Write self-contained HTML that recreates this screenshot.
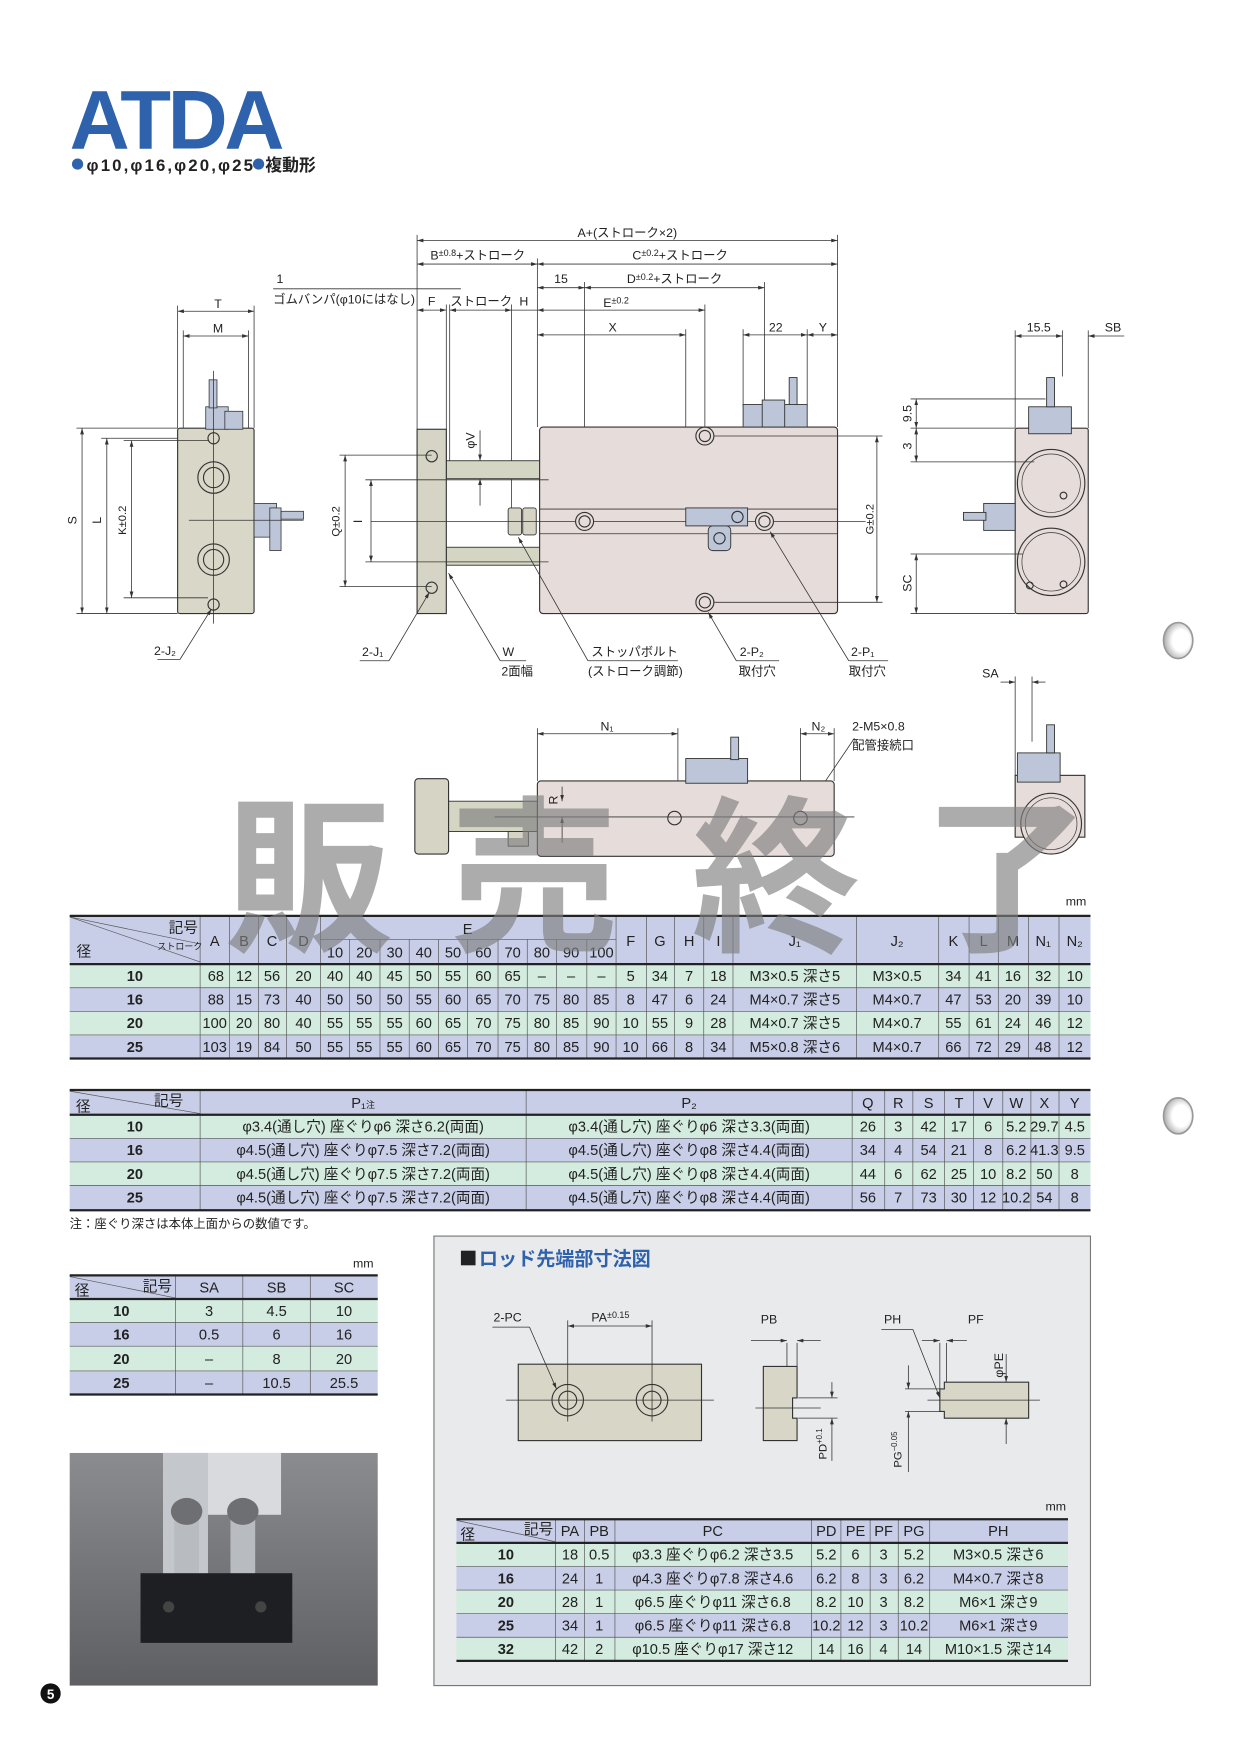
<!DOCTYPE html>
<html><head><meta charset="utf-8"><style>
html,body{margin:0;padding:0;background:#fff}
svg{display:block}
text{font-family:"Liberation Sans","Noto Sans CJK JP",sans-serif;fill:#222}
.s{font-size:11px}.t{font-size:13px}.m{text-anchor:middle}
.dl{stroke:#333;stroke-width:0.7;fill:none}
.ol{stroke:#333;stroke-width:1;}
.g{fill:#d3ecdf}.l{fill:#c9cee8}
.tl{stroke:#555;stroke-width:0.6}
.tk{stroke:#222;stroke-width:2}
</style></head><body>
<svg width="1240" height="1753" viewBox="0 0 1103 1560" preserveAspectRatio="none" xmlns="http://www.w3.org/2000/svg">
<defs>
<marker id="a" viewBox="0 0 10 6" refX="10" refY="3" markerWidth="8" markerHeight="5" orient="auto-start-reverse"><path d="M0,0L10,3L0,6z" fill="#333"/></marker>
</defs>
<rect width="1103" height="1560" fill="#fff"/>
<!-- Title -->
<text x="62" y="132" style="font-size:74px;font-weight:bold;fill:#2f62ad;letter-spacing:-3px">ATDA</text>
<circle cx="69" cy="146" r="5" fill="#2f62ad"/>
<text x="77" y="152" textLength="148" lengthAdjust="spacing" style="font-size:15px;font-weight:bold">φ10,φ16,φ20,φ25</text>
<circle cx="230" cy="146" r="5" fill="#2f62ad"/>
<text x="236" y="152" style="font-size:15px;font-weight:bold">複動形</text>

<!-- ===== Left side view ===== -->
<g>
<line class="dl" x1="158" y1="272" x2="158" y2="381"/><line class="dl" x1="226" y1="272" x2="226" y2="381"/>
<line class="dl" x1="163" y1="294" x2="163" y2="381"/><line class="dl" x1="221" y1="294" x2="221" y2="381"/>
<line class="dl" x1="158" y1="277" x2="226" y2="277" marker-start="url(#a)" marker-end="url(#a)"/>
<line class="dl" x1="163" y1="299" x2="221" y2="299" marker-start="url(#a)" marker-end="url(#a)"/>
<text class="s m" x="194" y="274">T</text><text class="s m" x="194" y="296">M</text>
<rect x="158" y="381" width="68" height="165" rx="2" fill="#d9d8c8" stroke="#333"/>
<rect x="183" y="362" width="20" height="20" fill="#bcc6d8" stroke="#333" stroke-width=".7"/>
<rect x="200" y="366" width="16" height="16" fill="#bcc6d8" stroke="#333" stroke-width=".7"/>
<rect x="186" y="338" width="7" height="25" fill="#bcc6d8" stroke="#333" stroke-width=".7"/>
<rect x="226" y="448" width="20" height="30" fill="#bcc6d8" stroke="#333" stroke-width=".7"/>
<rect x="240" y="452" width="10" height="38" fill="#bcc6d8" stroke="#333" stroke-width=".7"/>
<rect x="250" y="455" width="20" height="7" fill="#bcc6d8" stroke="#333" stroke-width=".7"/>
<circle cx="190" cy="425" r="14" fill="#d9d8c8" stroke="#333"/><circle cx="190" cy="425" r="9" fill="none" stroke="#333"/>
<circle cx="190" cy="498" r="14" fill="#d9d8c8" stroke="#333"/><circle cx="190" cy="498" r="9" fill="none" stroke="#333"/>
<circle cx="190" cy="390" r="5" fill="none" stroke="#333"/><circle cx="190" cy="538" r="5" fill="none" stroke="#333"/>
<line class="dl" x1="190" y1="330" x2="190" y2="555"/><line class="dl" x1="168" y1="463" x2="270" y2="463"/>
<line class="dl" x1="68" y1="381" x2="158" y2="381"/><line class="dl" x1="68" y1="546" x2="158" y2="546"/>
<line class="dl" x1="90" y1="390" x2="158" y2="390"/><line class="dl" x1="110" y1="392" x2="185" y2="392"/><line class="dl" x1="110" y1="532" x2="185" y2="532"/>
<line class="dl" x1="73" y1="381" x2="73" y2="546" marker-start="url(#a)" marker-end="url(#a)"/>
<line class="dl" x1="95" y1="390" x2="95" y2="546" marker-start="url(#a)" marker-end="url(#a)"/>
<line class="dl" x1="117" y1="392" x2="117" y2="532" marker-start="url(#a)" marker-end="url(#a)"/>
<text class="s m" transform="translate(68,463) rotate(-90)">S</text>
<text class="s m" transform="translate(90,463) rotate(-90)">L</text>
<text class="s m" transform="translate(112,463) rotate(-90)" style="font-size:10px">K±0.2</text>
<line class="dl" x1="140" y1="587" x2="160" y2="587"/><line class="dl" x1="160" y1="587" x2="188" y2="542" marker-end="url(#a)"/>
<text class="s" x="137" y="583">2-J₂</text>
</g>

<!-- ===== Main view ===== -->
<g>
<g class="dl">
<line x1="371" y1="209" x2="371" y2="382"/><line x1="745" y1="209" x2="745" y2="380"/>
<line x1="478" y1="230" x2="478" y2="380"/><line x1="520" y1="251" x2="520" y2="472"/><line x1="680" y1="251" x2="680" y2="472"/>
<line x1="627" y1="271" x2="627" y2="545"/><line x1="610" y1="293" x2="610" y2="455"/>
<line x1="661" y1="293" x2="661" y2="362"/><line x1="718" y1="293" x2="718" y2="362"/>
<line x1="397" y1="271" x2="397" y2="410"/><line x1="400" y1="271" x2="400" y2="410"/><line x1="455" y1="271" x2="455" y2="455"/>
</g>
<line class="dl" x1="371" y1="214" x2="745" y2="214" marker-start="url(#a)" marker-end="url(#a)"/>
<line class="dl" x1="371" y1="235" x2="478" y2="235" marker-start="url(#a)" marker-end="url(#a)"/>
<line class="dl" x1="478" y1="235" x2="745" y2="235" marker-start="url(#a)" marker-end="url(#a)"/>
<line class="dl" x1="478" y1="256" x2="520" y2="256" marker-start="url(#a)" marker-end="url(#a)"/>
<line class="dl" x1="520" y1="256" x2="680" y2="256" marker-start="url(#a)" marker-end="url(#a)"/>
<line class="dl" x1="371" y1="276" x2="397" y2="276" marker-start="url(#a)" marker-end="url(#a)"/>
<line class="dl" x1="400" y1="276" x2="455" y2="276" marker-start="url(#a)" marker-end="url(#a)"/>
<line class="dl" x1="455" y1="276" x2="478" y2="276"/>
<line class="dl" x1="478" y1="276" x2="627" y2="276" marker-start="url(#a)" marker-end="url(#a)"/>
<line class="dl" x1="478" y1="298" x2="610" y2="298" marker-start="url(#a)" marker-end="url(#a)"/>
<line class="dl" x1="661" y1="298" x2="718" y2="298" marker-start="url(#a)" marker-end="url(#a)"/>
<line class="dl" x1="718" y1="298" x2="745" y2="298" marker-start="url(#a)" marker-end="url(#a)"/>
<text class="s m" x="558" y="211">A+(ストローク×2)</text>
<text class="s m" x="425" y="231">B<tspan style="font-size:8px" dy="-3">±0.8</tspan><tspan dy="3">+ストローク</tspan></text>
<text class="s m" x="605" y="231">C<tspan style="font-size:8px" dy="-3">±0.2</tspan><tspan dy="3">+ストローク</tspan></text>
<text class="s m" x="499" y="252">15</text>
<text class="s m" x="600" y="252">D<tspan style="font-size:8px" dy="-3">±0.2</tspan><tspan dy="3">+ストローク</tspan></text>
<text class="s" x="246" y="252">1</text>
<line class="dl" x1="243" y1="257" x2="410" y2="257"/>
<text class="s" x="243" y="270">ゴムバンパ(φ10にはなし)</text>
<text class="s m" x="384" y="272">F</text><text class="s m" x="428" y="272">ストローク</text><text class="s m" x="466" y="272">H</text>
<text class="s m" x="548" y="273">E<tspan style="font-size:8px" dy="-3">±0.2</tspan></text>
<text class="s m" x="545" y="295">X</text><text class="s m" x="690" y="295">22</text><text class="s m" x="732" y="295">Y</text>
<rect x="397" y="410" width="84" height="16" fill="#d4d5c3" stroke="#333" stroke-width=".8"/>
<rect x="397" y="487" width="84" height="16" fill="#d4d5c3" stroke="#333" stroke-width=".8"/>
<rect x="371" y="382" width="26" height="164" fill="#d6d5c5" stroke="#333"/>
<circle cx="384" cy="406" r="5" fill="none" stroke="#333"/><circle cx="384" cy="523" r="5" fill="none" stroke="#333"/>
<rect x="452" y="452" width="12" height="24" rx="2" fill="#d6d5c5" stroke="#333" stroke-width=".8"/>
<rect x="465" y="452" width="12" height="24" rx="2" fill="#d6d5c5" stroke="#333" stroke-width=".8"/>
<rect x="480" y="380" width="265" height="166" rx="3" fill="#e6dcd9" stroke="#333"/>
<line class="dl" x1="480" y1="453" x2="745" y2="453"/><line class="dl" x1="480" y1="475" x2="745" y2="475"/>
<line class="dl" x1="330" y1="464" x2="770" y2="464"/>
<circle cx="627" cy="388" r="8" fill="none" stroke="#333"/><circle cx="627" cy="388" r="5" fill="none" stroke="#333"/>
<circle cx="627" cy="536" r="8" fill="none" stroke="#333"/><circle cx="627" cy="536" r="5" fill="none" stroke="#333"/>
<circle cx="520" cy="464" r="8" fill="#e6dcd9" stroke="#333"/><circle cx="520" cy="464" r="5" fill="none" stroke="#333"/>
<circle cx="680" cy="464" r="8" fill="#e6dcd9" stroke="#333"/><circle cx="680" cy="464" r="5" fill="none" stroke="#333"/>
<rect x="610" y="452" width="55" height="16" fill="#bcc6d8" stroke="#333" stroke-width=".8"/>
<rect x="630" y="468" width="20" height="22" rx="4" fill="#bcc6d8" stroke="#333" stroke-width=".8"/>
<circle cx="640" cy="479" r="5" fill="none" stroke="#333"/>
<circle cx="656" cy="460" r="5" fill="none" stroke="#333"/>
<rect x="661" y="360" width="57" height="20" fill="#bcc6d8" stroke="#333" stroke-width=".8"/>
<rect x="678" y="356" width="20" height="24" fill="#bcc6d8" stroke="#333" stroke-width=".8"/>
<rect x="702" y="336" width="7" height="24" fill="#bcc6d8" stroke="#333" stroke-width=".8"/>
<line class="dl" x1="302" y1="405" x2="384" y2="405"/><line class="dl" x1="302" y1="522" x2="384" y2="522"/>
<line class="dl" x1="325" y1="427" x2="488" y2="427"/><line class="dl" x1="325" y1="500" x2="488" y2="500"/>
<line class="dl" x1="307" y1="405" x2="307" y2="522" marker-start="url(#a)" marker-end="url(#a)"/>
<line class="dl" x1="330" y1="427" x2="330" y2="500" marker-start="url(#a)" marker-end="url(#a)"/>
<text class="s m" transform="translate(302,464) rotate(-90)" style="font-size:10px">Q±0.2</text>
<text class="s m" transform="translate(322,464) rotate(-90)">I</text>
<line class="dl" x1="635" y1="388" x2="785" y2="388"/><line class="dl" x1="635" y1="536" x2="785" y2="536"/>
<line class="dl" x1="780" y1="388" x2="780" y2="536" marker-start="url(#a)" marker-end="url(#a)"/>
<text class="s m" transform="translate(777,462) rotate(-90)" style="font-size:10px">G±0.2</text>
<line class="dl" x1="427" y1="383" x2="427" y2="410" marker-end="url(#a)"/><line class="dl" x1="427" y1="450" x2="427" y2="426" marker-end="url(#a)"/>
<text class="s m" transform="translate(422,392) rotate(-90)">φV</text>
<line class="dl" x1="320" y1="588" x2="346" y2="588"/><line class="dl" x1="346" y1="588" x2="382" y2="527" marker-end="url(#a)"/>
<text class="s" x="322" y="584">2-J₁</text>
<line class="dl" x1="445" y1="588" x2="468" y2="588"/><line class="dl" x1="445" y1="588" x2="399" y2="510" marker-end="url(#a)"/>
<text class="s" x="447" y="584">W</text><text class="s" x="446" y="601">2面幅</text>
<line class="dl" x1="523" y1="588" x2="603" y2="588"/><line class="dl" x1="523" y1="588" x2="461" y2="478" marker-end="url(#a)"/>
<text class="s" x="526" y="584">ストッパボルト</text><text class="s" x="523" y="601">(ストローク調節)</text>
<line class="dl" x1="655" y1="588" x2="693" y2="588"/><line class="dl" x1="655" y1="588" x2="630" y2="545" marker-end="url(#a)"/>
<text class="s" x="658" y="584">2-P₂</text><text class="s" x="657" y="601">取付穴</text>
<line class="dl" x1="755" y1="588" x2="790" y2="588"/><line class="dl" x1="755" y1="588" x2="685" y2="473" marker-end="url(#a)"/>
<text class="s" x="757" y="584">2-P₁</text><text class="s" x="755" y="601">取付穴</text>
</g>

<!-- ===== Right view ===== -->
<g>
<line class="dl" x1="903" y1="294" x2="903" y2="381"/><line class="dl" x1="945" y1="294" x2="945" y2="335"/><line class="dl" x1="968" y1="294" x2="968" y2="381"/>
<line class="dl" x1="903" y1="299" x2="945" y2="299" marker-start="url(#a)" marker-end="url(#a)"/>
<line class="dl" x1="968" y1="299" x2="1000" y2="299" marker-start="url(#a)"/>
<text class="s m" x="924" y="295">15.5</text><text class="s m" x="990" y="295">SB</text>
<rect x="903" y="381" width="65" height="165" rx="2" fill="#e6dcd9" stroke="#333"/>
<circle cx="935" cy="430" r="30" fill="#e6dcd9" stroke="#333"/><circle cx="935" cy="430" r="26" fill="none" stroke="#333" stroke-width=".6"/>
<circle cx="935" cy="500" r="30" fill="#e6dcd9" stroke="#333"/><circle cx="935" cy="500" r="26" fill="none" stroke="#333" stroke-width=".6"/>
<circle cx="946" cy="441" r="3" fill="none" stroke="#333"/><circle cx="946" cy="520" r="3" fill="none" stroke="#333"/><circle cx="916" cy="521" r="3" fill="none" stroke="#333"/>
<rect x="915" y="362" width="38" height="24" fill="#bcc6d8" stroke="#333" stroke-width=".8"/>
<rect x="931" y="336" width="7" height="26" fill="#bcc6d8" stroke="#333" stroke-width=".8"/>
<rect x="875" y="448" width="28" height="24" fill="#bcc6d8" stroke="#333" stroke-width=".8"/>
<rect x="857" y="456" width="20" height="7" fill="#bcc6d8" stroke="#333" stroke-width=".8"/>
<line class="dl" x1="810" y1="355" x2="930" y2="355"/><line class="dl" x1="810" y1="381" x2="903" y2="381"/><line class="dl" x1="810" y1="411" x2="920" y2="411"/>
<line class="dl" x1="815" y1="355" x2="815" y2="381" marker-start="url(#a)" marker-end="url(#a)"/>
<line class="dl" x1="815" y1="381" x2="815" y2="411" marker-start="url(#a)" marker-end="url(#a)"/>
<text class="s m" transform="translate(811,368) rotate(-90)">9.5</text>
<text class="s m" transform="translate(811,397) rotate(-90)">3</text>
<line class="dl" x1="810" y1="493" x2="910" y2="493"/><line class="dl" x1="810" y1="546" x2="903" y2="546"/>
<line class="dl" x1="815" y1="493" x2="815" y2="546" marker-start="url(#a)" marker-end="url(#a)"/>
<text class="s m" transform="translate(811,519) rotate(-90)">SC</text>
</g>
<defs><radialGradient id="hole" cx="0.6" cy="0.5" r="0.6"><stop offset="0.5" stop-color="#fff"/><stop offset="1" stop-color="#aaa"/></radialGradient></defs>
<ellipse cx="1048" cy="570" rx="13" ry="16" fill="url(#hole)" stroke="#999" stroke-width="1.5"/>
<ellipse cx="1048" cy="993" rx="13" ry="16" fill="url(#hole)" stroke="#999" stroke-width="1.5"/>

<!-- ===== Lower view ===== -->
<g>
<line class="dl" x1="478" y1="648" x2="478" y2="695"/><line class="dl" x1="603" y1="648" x2="603" y2="722"/>
<line class="dl" x1="712" y1="648" x2="712" y2="722"/><line class="dl" x1="742" y1="648" x2="742" y2="695"/>
<line class="dl" x1="478" y1="653" x2="603" y2="653" marker-start="url(#a)" marker-end="url(#a)"/>
<line class="dl" x1="712" y1="653" x2="742" y2="653" marker-start="url(#a)" marker-end="url(#a)"/>
<text class="s m" x="540" y="650">N₁</text><text class="s m" x="728" y="650">N₂</text>
<text class="s" x="758" y="650">2-M5×0.8</text><text class="s" x="758" y="667">配管接続口</text>
<line class="dl" x1="760" y1="657" x2="716" y2="722" marker-end="url(#a)"/>
<rect x="399" y="713" width="80" height="27" fill="#d4d5c3" stroke="#333" stroke-width=".8"/>
<rect x="369" y="693" width="30" height="67" rx="3" fill="#d6d5c5" stroke="#333"/>
<rect x="452" y="740" width="18" height="13" fill="#d6d5c5" stroke="#333" stroke-width=".8"/>
<rect x="478" y="695" width="264" height="67" rx="3" fill="#e6dcd9" stroke="#333"/>
<rect x="610" y="675" width="55" height="22" fill="#bcc6d8" stroke="#333" stroke-width=".8"/>
<rect x="650" y="656" width="7" height="20" fill="#bcc6d8" stroke="#333" stroke-width=".8"/>
<circle cx="600" cy="728" r="6" fill="none" stroke="#333"/><circle cx="712" cy="728" r="6" fill="none" stroke="#333"/>
<line class="dl" x1="440" y1="727" x2="760" y2="727"/>
<line class="dl" x1="500" y1="700" x2="500" y2="713" marker-end="url(#a)"/><line class="dl" x1="500" y1="750" x2="500" y2="727" marker-end="url(#a)"/>
<text class="s m" transform="translate(496,712) rotate(-90)">R</text>
<line class="dl" x1="903" y1="602" x2="903" y2="690"/><line class="dl" x1="918" y1="602" x2="918" y2="660"/>
<line class="dl" x1="890" y1="607" x2="903" y2="607" marker-end="url(#a)"/><line class="dl" x1="930" y1="607" x2="918" y2="607" marker-end="url(#a)"/>
<text class="s m" x="881" y="603">SA</text>
<rect x="903" y="690" width="62" height="55" fill="#e6dcd9" stroke="#333"/>
<circle cx="935" cy="733" r="27" fill="#e6dcd9" stroke="#333"/><circle cx="935" cy="733" r="23" fill="none" stroke="#333" stroke-width=".6"/>
<rect x="905" y="670" width="38" height="26" fill="#bcc6d8" stroke="#333" stroke-width=".8"/>
<rect x="931" y="645" width="7" height="25" fill="#bcc6d8" stroke="#333" stroke-width=".8"/>
</g>

<!-- ===== Table 1 ===== -->
<text class="s" x="948" y="806">mm</text>
<rect x="62" y="815" width="908" height="43" class="l"/>
<rect x="62" y="858" width="908" height="21" class="g"/>
<rect x="62" y="879" width="908" height="21" class="l"/>
<rect x="62" y="900" width="908" height="21" class="g"/>
<rect x="62" y="921" width="908" height="21" class="l"/>
<g class="tl">
<line x1="178" y1="815" x2="178" y2="942"/><line x1="204" y1="815" x2="204" y2="942"/><line x1="230" y1="815" x2="230" y2="942"/><line x1="255" y1="815" x2="255" y2="942"/><line x1="285" y1="815" x2="285" y2="942"/>
<line x1="311" y1="836" x2="311" y2="942"/><line x1="338" y1="836" x2="338" y2="942"/><line x1="364" y1="836" x2="364" y2="942"/><line x1="390" y1="836" x2="390" y2="942"/><line x1="416" y1="836" x2="416" y2="942"/><line x1="443" y1="836" x2="443" y2="942"/><line x1="469" y1="836" x2="469" y2="942"/><line x1="495" y1="836" x2="495" y2="942"/><line x1="522" y1="836" x2="522" y2="942"/>
<line x1="548" y1="815" x2="548" y2="942"/><line x1="575" y1="815" x2="575" y2="942"/><line x1="600" y1="815" x2="600" y2="942"/><line x1="626" y1="815" x2="626" y2="942"/><line x1="652" y1="815" x2="652" y2="942"/><line x1="762" y1="815" x2="762" y2="942"/><line x1="835" y1="815" x2="835" y2="942"/><line x1="862" y1="815" x2="862" y2="942"/><line x1="888" y1="815" x2="888" y2="942"/><line x1="915" y1="815" x2="915" y2="942"/><line x1="942" y1="815" x2="942" y2="942"/>
<line x1="285" y1="836" x2="548" y2="836"/>
<line x1="62" y1="879" x2="970" y2="879"/><line x1="62" y1="900" x2="970" y2="900"/><line x1="62" y1="921" x2="970" y2="921"/>
<line x1="62" y1="816" x2="178" y2="856"/><line x1="62" y1="816" x2="178" y2="840"/>
</g>
<line class="tk" x1="62" y1="815" x2="970" y2="815"/><line class="tk" x1="62" y1="858" x2="970" y2="858"/><line class="tk" x1="62" y1="942" x2="970" y2="942"/>
<g class="t">
<text x="150" y="830">記号</text><text x="140" y="845" style="font-size:8px">ストローク</text><text x="68" y="851">径</text>
<text class="m" x="191" y="842">A</text><text class="m" x="217" y="842">B</text><text class="m" x="242" y="842">C</text><text class="m" x="270" y="842">D</text>
<text class="m" x="416" y="831">E</text>
<text class="m" x="298" y="852">10</text><text class="m" x="324" y="852">20</text><text class="m" x="351" y="852">30</text><text class="m" x="377" y="852">40</text><text class="m" x="403" y="852">50</text><text class="m" x="430" y="852">60</text><text class="m" x="456" y="852">70</text><text class="m" x="482" y="852">80</text><text class="m" x="508" y="852">90</text><text class="m" x="535" y="852">100</text>
<text class="m" x="561" y="842">F</text><text class="m" x="587" y="842">G</text><text class="m" x="613" y="842">H</text><text class="m" x="639" y="842">I</text><text class="m" x="707" y="842">J₁</text><text class="m" x="798" y="842">J₂</text><text class="m" x="848" y="842">K</text><text class="m" x="875" y="842">L</text><text class="m" x="901" y="842">M</text><text class="m" x="928" y="842">N₁</text><text class="m" x="956" y="842">N₂</text>
<text class="m" x="120" y="873" style="font-weight:bold">10</text><text class="m" x="120" y="894" style="font-weight:bold">16</text><text class="m" x="120" y="915" style="font-weight:bold">20</text><text class="m" x="120" y="936" style="font-weight:bold">25</text>
</g>
<g class="t" text-anchor="middle">
<text y="873"><tspan x="192">68</tspan><tspan x="217">12</tspan><tspan x="242">56</tspan><tspan x="270">20</tspan><tspan x="298">40</tspan><tspan x="324">40</tspan><tspan x="351">45</tspan><tspan x="377">50</tspan><tspan x="403">55</tspan><tspan x="430">60</tspan><tspan x="456">65</tspan><tspan x="482">–</tspan><tspan x="508">–</tspan><tspan x="535">–</tspan><tspan x="561">5</tspan><tspan x="587">34</tspan><tspan x="613">7</tspan><tspan x="639">18</tspan><tspan x="707">M3×0.5 深さ5</tspan><tspan x="798">M3×0.5</tspan><tspan x="848">34</tspan><tspan x="875">41</tspan><tspan x="901">16</tspan><tspan x="928">32</tspan><tspan x="956">10</tspan></text>
<text y="894"><tspan x="192">88</tspan><tspan x="217">15</tspan><tspan x="242">73</tspan><tspan x="270">40</tspan><tspan x="298">50</tspan><tspan x="324">50</tspan><tspan x="351">50</tspan><tspan x="377">55</tspan><tspan x="403">60</tspan><tspan x="430">65</tspan><tspan x="456">70</tspan><tspan x="482">75</tspan><tspan x="508">80</tspan><tspan x="535">85</tspan><tspan x="561">8</tspan><tspan x="587">47</tspan><tspan x="613">6</tspan><tspan x="639">24</tspan><tspan x="707">M4×0.7 深さ5</tspan><tspan x="798">M4×0.7</tspan><tspan x="848">47</tspan><tspan x="875">53</tspan><tspan x="901">20</tspan><tspan x="928">39</tspan><tspan x="956">10</tspan></text>
<text y="915"><tspan x="191">100</tspan><tspan x="217">20</tspan><tspan x="242">80</tspan><tspan x="270">40</tspan><tspan x="298">55</tspan><tspan x="324">55</tspan><tspan x="351">55</tspan><tspan x="377">60</tspan><tspan x="403">65</tspan><tspan x="430">70</tspan><tspan x="456">75</tspan><tspan x="482">80</tspan><tspan x="508">85</tspan><tspan x="535">90</tspan><tspan x="561">10</tspan><tspan x="587">55</tspan><tspan x="613">9</tspan><tspan x="639">28</tspan><tspan x="707">M4×0.7 深さ5</tspan><tspan x="798">M4×0.7</tspan><tspan x="848">55</tspan><tspan x="875">61</tspan><tspan x="901">24</tspan><tspan x="928">46</tspan><tspan x="956">12</tspan></text>
<text y="936"><tspan x="191">103</tspan><tspan x="217">19</tspan><tspan x="242">84</tspan><tspan x="270">50</tspan><tspan x="298">55</tspan><tspan x="324">55</tspan><tspan x="351">55</tspan><tspan x="377">60</tspan><tspan x="403">65</tspan><tspan x="430">70</tspan><tspan x="456">75</tspan><tspan x="482">80</tspan><tspan x="508">85</tspan><tspan x="535">90</tspan><tspan x="561">10</tspan><tspan x="587">66</tspan><tspan x="613">8</tspan><tspan x="639">34</tspan><tspan x="707">M5×0.8 深さ6</tspan><tspan x="798">M4×0.7</tspan><tspan x="848">66</tspan><tspan x="875">72</tspan><tspan x="901">29</tspan><tspan x="928">48</tspan><tspan x="956">12</tspan></text>
</g>

<!-- ===== Table 2 ===== -->
<rect x="62" y="970" width="908" height="22" class="l"/>
<rect x="62" y="992" width="908" height="21" class="g"/>
<rect x="62" y="1013" width="908" height="21" class="l"/>
<rect x="62" y="1034" width="908" height="21" class="g"/>
<rect x="62" y="1055" width="908" height="22" class="l"/>
<g class="tl">
<line x1="178" y1="970" x2="178" y2="1077"/><line x1="468" y1="970" x2="468" y2="1077"/><line x1="758" y1="970" x2="758" y2="1077"/><line x1="787" y1="970" x2="787" y2="1077"/><line x1="812" y1="970" x2="812" y2="1077"/><line x1="840" y1="970" x2="840" y2="1077"/><line x1="866" y1="970" x2="866" y2="1077"/><line x1="892" y1="970" x2="892" y2="1077"/><line x1="917" y1="970" x2="917" y2="1077"/><line x1="942" y1="970" x2="942" y2="1077"/>
<line x1="62" y1="1013" x2="970" y2="1013"/><line x1="62" y1="1034" x2="970" y2="1034"/><line x1="62" y1="1055" x2="970" y2="1055"/>
<line x1="62" y1="971" x2="178" y2="991"/>
</g>
<line class="tk" x1="62" y1="970" x2="970" y2="970"/><line class="tk" x1="62" y1="992" x2="970" y2="992"/><line class="tk" x1="62" y1="1077" x2="970" y2="1077"/>
<g class="t" text-anchor="middle">
<text x="150" y="984">記号</text><text x="74" y="989">径</text>
<text y="986"><tspan x="323">P₁<tspan style="font-size:8px">注</tspan></tspan><tspan x="613">P₂</tspan><tspan x="772">Q</tspan><tspan x="799">R</tspan><tspan x="826">S</tspan><tspan x="853">T</tspan><tspan x="879">V</tspan><tspan x="904">W</tspan><tspan x="929">X</tspan><tspan x="956">Y</tspan></text>
<text x="120" y="1007" font-weight="bold">10</text><text x="120" y="1028" font-weight="bold">16</text><text x="120" y="1049" font-weight="bold">20</text><text x="120" y="1070" font-weight="bold">25</text>
<text y="1007"><tspan x="323">φ3.4(通し穴)  座ぐりφ6  深さ6.2(両面)</tspan><tspan x="613">φ3.4(通し穴)  座ぐりφ6  深さ3.3(両面)</tspan><tspan x="772">26</tspan><tspan x="799">3</tspan><tspan x="826">42</tspan><tspan x="853">17</tspan><tspan x="879">6</tspan><tspan x="904">5.2</tspan><tspan x="929">29.7</tspan><tspan x="956">4.5</tspan></text>
<text y="1028"><tspan x="323">φ4.5(通し穴)  座ぐりφ7.5  深さ7.2(両面)</tspan><tspan x="613">φ4.5(通し穴)  座ぐりφ8  深さ4.4(両面)</tspan><tspan x="772">34</tspan><tspan x="799">4</tspan><tspan x="826">54</tspan><tspan x="853">21</tspan><tspan x="879">8</tspan><tspan x="904">6.2</tspan><tspan x="929">41.3</tspan><tspan x="956">9.5</tspan></text>
<text y="1049"><tspan x="323">φ4.5(通し穴)  座ぐりφ7.5  深さ7.2(両面)</tspan><tspan x="613">φ4.5(通し穴)  座ぐりφ8  深さ4.4(両面)</tspan><tspan x="772">44</tspan><tspan x="799">6</tspan><tspan x="826">62</tspan><tspan x="853">25</tspan><tspan x="879">10</tspan><tspan x="904">8.2</tspan><tspan x="929">50</tspan><tspan x="956">8</tspan></text>
<text y="1070"><tspan x="323">φ4.5(通し穴)  座ぐりφ7.5  深さ7.2(両面)</tspan><tspan x="613">φ4.5(通し穴)  座ぐりφ8  深さ4.4(両面)</tspan><tspan x="772">56</tspan><tspan x="799">7</tspan><tspan x="826">73</tspan><tspan x="853">30</tspan><tspan x="879">12</tspan><tspan x="904">10.2</tspan><tspan x="929">54</tspan><tspan x="956">8</tspan></text>
</g>
<text class="s" x="62" y="1093">注：座ぐり深さは本体上面からの数値です。</text>

<!-- ===== Table 3 ===== -->
<text class="s" x="314" y="1128">mm</text>
<rect x="62" y="1135" width="274" height="21" class="l"/>
<rect x="62" y="1156" width="274" height="21" class="g"/>
<rect x="62" y="1177" width="274" height="21" class="l"/>
<rect x="62" y="1198" width="274" height="22" class="g"/>
<rect x="62" y="1220" width="274" height="21" class="l"/>
<g class="tl">
<line x1="156" y1="1135" x2="156" y2="1241"/><line x1="216" y1="1135" x2="216" y2="1241"/><line x1="276" y1="1135" x2="276" y2="1241"/>
<line x1="62" y1="1177" x2="336" y2="1177"/><line x1="62" y1="1198" x2="336" y2="1198"/><line x1="62" y1="1220" x2="336" y2="1220"/>
<line x1="62" y1="1136" x2="156" y2="1155"/>
</g>
<line class="tk" x1="62" y1="1135" x2="336" y2="1135"/><line class="tk" x1="62" y1="1156" x2="336" y2="1156"/><line class="tk" x1="62" y1="1241" x2="336" y2="1241"/>
<g class="t" text-anchor="middle">
<text x="140" y="1149">記号</text><text x="73" y="1153">径</text>
<text y="1150"><tspan x="186">SA</tspan><tspan x="246">SB</tspan><tspan x="306">SC</tspan></text>
<text y="1171"><tspan x="108" font-weight="bold">10</tspan><tspan x="186">3</tspan><tspan x="246">4.5</tspan><tspan x="306">10</tspan></text>
<text y="1192"><tspan x="108" font-weight="bold">16</tspan><tspan x="186">0.5</tspan><tspan x="246">6</tspan><tspan x="306">16</tspan></text>
<text y="1214"><tspan x="108" font-weight="bold">20</tspan><tspan x="186">–</tspan><tspan x="246">8</tspan><tspan x="306">20</tspan></text>
<text y="1235"><tspan x="108" font-weight="bold">25</tspan><tspan x="186">–</tspan><tspan x="246">10.5</tspan><tspan x="306">25.5</tspan></text>
</g>

<!-- ===== Photo ===== -->
<defs><linearGradient id="ph" x1="0" y1="0" x2="0" y2="1"><stop offset="0" stop-color="#8a8c90"/><stop offset="1" stop-color="#5d5f63"/></linearGradient></defs>
<rect x="62" y="1293" width="274" height="207" fill="url(#ph)"/>
<rect x="145" y="1293" width="105" height="55" fill="#d8dade"/>
<rect x="145" y="1293" width="40" height="110" fill="#c4c7cc"/>
<rect x="155" y="1340" width="22" height="65" fill="#b8bbc0"/><rect x="205" y="1340" width="22" height="65" fill="#b8bbc0"/>
<ellipse cx="166" cy="1345" rx="14" ry="12" fill="#6d6f73"/><ellipse cx="216" cy="1345" rx="14" ry="12" fill="#6d6f73"/>
<rect x="125" y="1400" width="135" height="62" fill="#1e1f22"/>
<circle cx="150" cy="1430" r="5" fill="#444"/><circle cx="232" cy="1430" r="5" fill="#444"/>
<circle cx="45" cy="1507" r="9" fill="#111"/><text x="45" y="1512" class="m" style="font-size:12px;fill:#fff;font-weight:bold">5</text>

<!-- ===== Rod end panel ===== -->
<rect x="386" y="1100" width="584" height="400" fill="#e9eaec" stroke="#777" stroke-width="1"/>
<rect x="410" y="1113" width="13" height="13" fill="#222"/>
<text x="426" y="1126" style="font-size:17px;fill:#2f62ad;font-weight:bold">ロッド先端部寸法図</text>
<rect x="461" y="1214" width="163" height="68" fill="#d8d6c6" stroke="#333"/>
<line class="dl" x1="450" y1="1246" x2="635" y2="1246"/>
<circle cx="505" cy="1246" r="14" fill="none" stroke="#333"/><circle cx="505" cy="1246" r="8" fill="none" stroke="#333"/>
<circle cx="580" cy="1246" r="14" fill="none" stroke="#333"/><circle cx="580" cy="1246" r="8" fill="none" stroke="#333"/>
<line class="dl" x1="505" y1="1175" x2="505" y2="1265"/><line class="dl" x1="580" y1="1175" x2="580" y2="1265"/>
<line class="dl" x1="505" y1="1180" x2="580" y2="1180" marker-start="url(#a)" marker-end="url(#a)"/>
<text class="s m" x="543" y="1176">PA<tspan style="font-size:8px" dy="-3">±0.15</tspan></text>
<text class="s" x="439" y="1176">2-PC</text>
<line class="dl" x1="438" y1="1181" x2="471" y2="1181"/><line class="dl" x1="471" y1="1181" x2="495" y2="1236" marker-end="url(#a)"/>
<path d="M679,1216H709V1244H705V1262H709V1282H679Z" fill="#d8d6c6" stroke="#333"/>
<line class="dl" x1="700" y1="1195" x2="700" y2="1216"/><line class="dl" x1="709" y1="1195" x2="709" y2="1216"/>
<line class="dl" x1="668" y1="1193" x2="700" y2="1193" marker-end="url(#a)"/><line class="dl" x1="730" y1="1193" x2="709" y2="1193" marker-end="url(#a)"/>
<text class="s m" x="684" y="1178">PB</text>
<line class="dl" x1="672" y1="1253" x2="730" y2="1253"/>
<line class="dl" x1="710" y1="1244" x2="745" y2="1244"/><line class="dl" x1="710" y1="1262" x2="745" y2="1262"/>
<line class="dl" x1="740" y1="1230" x2="740" y2="1244" marker-end="url(#a)"/><line class="dl" x1="740" y1="1300" x2="740" y2="1262" marker-end="url(#a)"/>
<text class="s m" transform="translate(735,1285) rotate(-90)" style="font-size:10px">PD<tspan style="font-size:7px" dy="-4">+0.1</tspan></text>
<path d="M840,1230H915V1262H840V1256H836V1236H840Z" fill="#d8d6c6" stroke="#333"/>
<line class="dl" x1="825" y1="1246" x2="925" y2="1246"/>
<line class="dl" x1="836" y1="1195" x2="836" y2="1236"/><line class="dl" x1="842" y1="1195" x2="842" y2="1230"/>
<line class="dl" x1="820" y1="1193" x2="836" y2="1193" marker-end="url(#a)"/><line class="dl" x1="860" y1="1193" x2="842" y2="1193" marker-end="url(#a)"/>
<text class="s m" x="794" y="1178">PH</text><text class="s m" x="868" y="1178">PF</text>
<line class="dl" x1="784" y1="1183" x2="812" y2="1183"/><line class="dl" x1="812" y1="1183" x2="836" y2="1244" marker-end="url(#a)"/>
<line class="dl" x1="895" y1="1205" x2="895" y2="1230" marker-end="url(#a)"/><line class="dl" x1="895" y1="1285" x2="895" y2="1262" marker-end="url(#a)"/>
<text class="s m" transform="translate(892,1215) rotate(-90)">φPE</text>
<line class="dl" x1="805" y1="1236" x2="836" y2="1236"/><line class="dl" x1="805" y1="1256" x2="836" y2="1256"/>
<line class="dl" x1="808" y1="1215" x2="808" y2="1236" marker-end="url(#a)"/><line class="dl" x1="808" y1="1310" x2="808" y2="1256" marker-end="url(#a)"/>
<text class="s m" transform="translate(802,1290) rotate(-90)" style="font-size:10px">PG<tspan style="font-size:7px" dy="-4">−0.05</tspan></text>
<text class="s" x="930" y="1344">mm</text>
<rect x="406" y="1352" width="544" height="21" class="l"/>
<rect x="406" y="1373" width="544" height="21" class="g"/>
<rect x="406" y="1394" width="544" height="21" class="l"/>
<rect x="406" y="1415" width="544" height="21" class="g"/>
<rect x="406" y="1436" width="544" height="21" class="l"/>
<rect x="406" y="1457" width="544" height="21" class="g"/>
<g class="tl">
<line x1="494" y1="1352" x2="494" y2="1478"/><line x1="520" y1="1352" x2="520" y2="1478"/><line x1="547" y1="1352" x2="547" y2="1478"/><line x1="722" y1="1352" x2="722" y2="1478"/><line x1="748" y1="1352" x2="748" y2="1478"/><line x1="774" y1="1352" x2="774" y2="1478"/><line x1="799" y1="1352" x2="799" y2="1478"/><line x1="827" y1="1352" x2="827" y2="1478"/>
<line x1="406" y1="1394" x2="950" y2="1394"/><line x1="406" y1="1415" x2="950" y2="1415"/><line x1="406" y1="1436" x2="950" y2="1436"/><line x1="406" y1="1457" x2="950" y2="1457"/>
<line x1="406" y1="1353" x2="494" y2="1372"/>
</g>
<line class="tk" x1="406" y1="1352" x2="950" y2="1352"/><line class="tk" x1="406" y1="1373" x2="950" y2="1373"/><line class="tk" x1="406" y1="1478" x2="950" y2="1478"/>
<g class="t" text-anchor="middle">
<text x="479" y="1365">記号</text><text x="416" y="1370">径</text>
<text y="1367"><tspan x="507">PA</tspan><tspan x="533">PB</tspan><tspan x="634">PC</tspan><tspan x="735">PD</tspan><tspan x="761">PE</tspan><tspan x="786">PF</tspan><tspan x="813">PG</tspan><tspan x="888">PH</tspan></text>
<text y="1388"><tspan x="450" font-weight="bold">10</tspan><tspan x="507">18</tspan><tspan x="533">0.5</tspan><tspan x="634">φ3.3 座ぐりφ6.2 深さ3.5</tspan><tspan x="735">5.2</tspan><tspan x="761">6</tspan><tspan x="786">3</tspan><tspan x="813">5.2</tspan><tspan x="888">M3×0.5 深さ6</tspan></text>
<text y="1409"><tspan x="450" font-weight="bold">16</tspan><tspan x="507">24</tspan><tspan x="533">1</tspan><tspan x="634">φ4.3 座ぐりφ7.8 深さ4.6</tspan><tspan x="735">6.2</tspan><tspan x="761">8</tspan><tspan x="786">3</tspan><tspan x="813">6.2</tspan><tspan x="888">M4×0.7 深さ8</tspan></text>
<text y="1430"><tspan x="450" font-weight="bold">20</tspan><tspan x="507">28</tspan><tspan x="533">1</tspan><tspan x="634">φ6.5 座ぐりφ11 深さ6.8</tspan><tspan x="735">8.2</tspan><tspan x="761">10</tspan><tspan x="786">3</tspan><tspan x="813">8.2</tspan><tspan x="888">M6×1 深さ9</tspan></text>
<text y="1451"><tspan x="450" font-weight="bold">25</tspan><tspan x="507">34</tspan><tspan x="533">1</tspan><tspan x="634">φ6.5 座ぐりφ11 深さ6.8</tspan><tspan x="735">10.2</tspan><tspan x="761">12</tspan><tspan x="786">3</tspan><tspan x="813">10.2</tspan><tspan x="888">M6×1 深さ9</tspan></text>
<text y="1472"><tspan x="450" font-weight="bold">32</tspan><tspan x="507">42</tspan><tspan x="533">2</tspan><tspan x="634">φ10.5 座ぐりφ17 深さ12</tspan><tspan x="735">14</tspan><tspan x="761">16</tspan><tspan x="786">4</tspan><tspan x="813">14</tspan><tspan x="888">M10×1.5 深さ14</tspan></text>
</g>

<!-- watermark -->
<g style="font-size:150px;font-weight:bold;font-family:'Noto Sans CJK JP',sans-serif">
<text x="200" y="835" style="fill:#808080;fill-opacity:0.65;font-family:'Noto Sans CJK JP',sans-serif">販</text>
<text x="400" y="835" style="fill:#808080;fill-opacity:0.65;font-family:'Noto Sans CJK JP',sans-serif">売</text>
<text x="615" y="835" style="fill:#808080;fill-opacity:0.65;font-family:'Noto Sans CJK JP',sans-serif">終</text>
<text x="820" y="835" style="fill:#808080;fill-opacity:0.65;font-family:'Noto Sans CJK JP',sans-serif">了</text>
</g>
</svg>
</body></html>
